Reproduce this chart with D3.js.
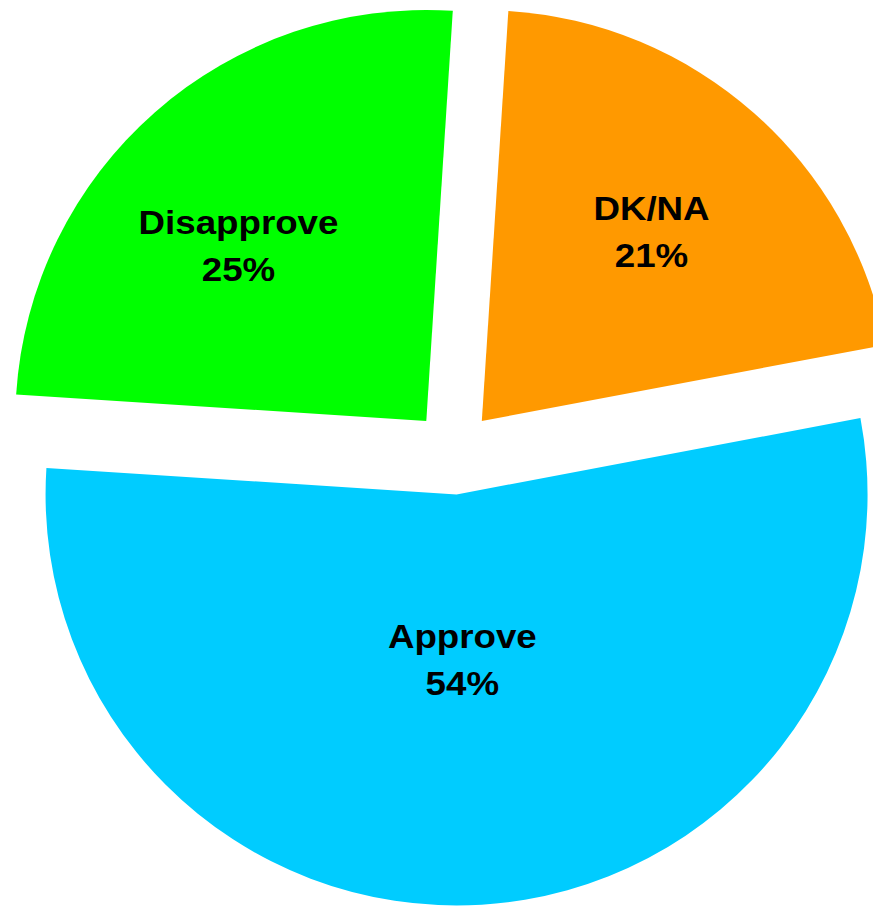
<!DOCTYPE html>
<html>
<head>
<meta charset="utf-8">
<script src="https://cdn.jsdelivr.net/npm/d3@7"></script>
<style>
  html, body { margin: 0; padding: 0; background: #fff; }
  svg { display: block; }
</style>
</head>
<body>
<svg id="chart" width="873" height="906"></svg>
<script>
// ---- data ----
const categories = ["DK/NA", "Approve", "Disapprove"];
const values = [21, 54, 25];
const percentLabels = ["21%", "54%", "25%"];
const colors = ["#FF9900", "#00CCFF", "#00FF00"];

// ---- layout ----
const W = 873, H = 906;
const cx = 454, cy = 452.5;
const radius = 411;
const explode = 42;
const startOffset = 3.7 * Math.PI / 180;
const labelNudge = [[1, 2], [-4, 6], [-25, 10]];

const svg = d3.select("#chart");
const g = svg.append("g").attr("transform", `translate(${cx},${cy})`);

const pie = d3.pie().sort(null).value(d => d)
  .startAngle(startOffset).endAngle(startOffset + 2 * Math.PI);
const arcs = pie(values);
const arc = d3.arc().innerRadius(0).outerRadius(radius);

const slices = g.selectAll("g.slice").data(arcs).enter().append("g")
  .attr("class", "slice")
  .attr("transform", d => {
    const mid = (d.startAngle + d.endAngle) / 2;
    return `translate(${explode * Math.sin(mid)},${-explode * Math.cos(mid)})`;
  });

slices.append("path")
  .attr("d", arc)
  .attr("fill", (d, i) => colors[i]);

// labels at the area centroid of each sector
slices.each(function(d, i) {
  const theta = d.endAngle - d.startAngle;
  const mid = (d.startAngle + d.endAngle) / 2;
  const dist = 4 * radius * Math.sin(theta / 2) / (3 * theta);
  const x = dist * Math.sin(mid) + labelNudge[i][0];
  const y = -dist * Math.cos(mid) + labelNudge[i][1];
  const t = d3.select(this).append("g")
    .attr("transform", `translate(${x},${y}) scale(1.08,1)`)
    .append("text")
    .attr("text-anchor", "middle")
    .attr("font-family", "'Liberation Sans', Arial, Helvetica, sans-serif")
    .attr("font-weight", "bold")
    .attr("font-size", 34)
    .attr("fill", "#000");
  t.append("tspan").attr("x", 0).attr("y", -12).text(categories[i]);
  t.append("tspan").attr("x", 0).attr("y", 35).text(percentLabels[i]);
});
</script>
</body>
</html>
